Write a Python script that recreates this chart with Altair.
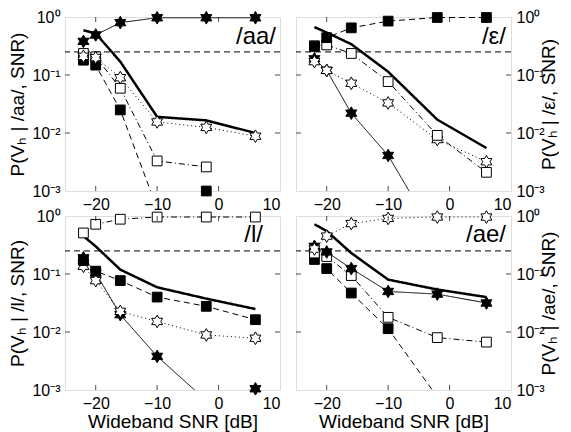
import altair as alt
import pandas as pd

snr = [-22, -20, -16, -10, -2, 6]

# /aa/ panel
aa_fstar = [0.38, 0.49, 0.80, 0.97, 0.97, 0.97]
aa_fsq = [0.18, 0.148, 0.025, 0.0005, 0.001, None]
aa_ostar = [0.21, 0.2, 0.09, 0.0155, 0.0125, 0.0088]
aa_osq = [0.235, 0.206, 0.059, 0.0033, 0.0026, None]
aa_thick = [0.59, 0.52, 0.17, 0.019, 0.0165, 0.01]

# /ε/ panel
eh_fstar = [0.19, 0.12, 0.022, 0.0041, 0.00015, None]
eh_fsq = [0.31, 0.44, 0.65, 0.85, 0.98, 0.98]
eh_ostar = [0.17, 0.12, 0.072, 0.033, 0.0077, 0.0032]
eh_osq = [0.32, 0.33, 0.235, 0.077, 0.0091, 0.0021]
eh_thick = [0.67, 0.54, 0.34, 0.114, 0.017, 0.0055]

# /l/ panel
l_fstar = [0.19, 0.104, 0.0199, 0.0038, 0.00066, 0.00105]
l_fsq = [0.17, 0.112, 0.077, 0.040, 0.0277, 0.0163]
l_ostar = [0.136, 0.077, 0.0227, 0.0152, 0.0089, 0.0078]
l_osq = [0.51, 0.72, 0.88, 0.96, 0.96, 0.96]
l_thick = [0.45, 0.30, 0.119, 0.059, 0.0376, 0.0249]

# /ae/ panel
ae_fstar = [0.30, 0.24, 0.124, 0.050, 0.045, 0.0316]
ae_fsq = [0.178, 0.124, 0.047, 0.0114, 0.00076, None]
ae_ostar = [0.27, 0.45, 0.74, 0.91, 0.96, 0.96]
ae_osq = [0.23, 0.20, 0.094, 0.0179, 0.008, 0.0067]
ae_thick = [0.72, 0.55, 0.23, 0.080, 0.054, 0.040]

threshold = [0.25]
x_ticks = [-20, -10, 0]
y_ticks = [0.01, 0.1]

W, H = 215, 174
FONT = "Liberation Sans"
HEX = ("M0,-1L0.2887,-0.5L0.866,-0.5L0.577,0L0.866,0.5L0.2887,0.5L0,1"
       "L-0.2887,0.5L-0.866,0.5L-0.577,0L-0.866,-0.5L-0.2887,-0.5Z")

STYLES = {
    "fstar": dict(dash=[1, 0], width=1, shape=HEX, fill="black", size=160),
    "fsq": dict(dash=[6, 4], width=1, shape="square", fill="black", size=95),
    "ostar": dict(dash=[1, 3], width=1, shape=HEX, fill="white", size=160),
    "osq": dict(dash=[6, 3, 1, 3], width=1, shape="square", fill="white", size=95),
    "thick": dict(dash=[1, 0], width=2.5, shape=None, fill=None, size=0),
}

ylabel_expr = ("datum.value >= 0.5 ? '10⁰' : datum.value >= 0.05 ? '10⁻¹' : "
               "datum.value >= 0.005 ? '10⁻²' : '10⁻³'")


def panel(series, label, label_x, label_y, left, bottom, ytitle):
    xs = alt.Scale(domain=[-25, 10], nice=False)
    ys = alt.Scale(type="log", domain=[0.001, 1], nice=False)
    xaxis = alt.Axis(values=[-20, -10, 0, 10], ticks=False, domain=False, grid=False,
                     labelPadding=5, labelFontSize=16, titleFontSize=19,
                     titleFontWeight="normal", titlePadding=1)
    yaxis = alt.Axis(values=[0.001, 0.01, 0.1, 1], labelExpr=ylabel_expr,
                     orient="left" if left else "right", ticks=False, domain=False,
                     grid=False, labelPadding=5, labelFontSize=16, titleFontSize=19,
                     titleFontWeight="normal", titlePadding=4 if left else 14,
                     titleAngle=270)
    layers = []
    # threshold line
    layers.append(alt.Chart(pd.DataFrame({"p": threshold})).mark_rule(
        color="black", strokeDash=[6, 4], strokeWidth=1).encode(
        y=alt.Y("p:Q", scale=ys, axis=yaxis, title=ytitle)))
    for key, vals in series.items():
        st = STYLES[key]
        df = pd.DataFrame({"snr": snr, "p": vals}).dropna()
        base = alt.Chart(df)
        layers.append(base.mark_line(color="black", strokeWidth=st["width"],
                                     strokeDash=st["dash"], clip=True).encode(
            x=alt.X("snr:Q", scale=xs, axis=xaxis,
                    title="Wideband SNR [dB]" if bottom else None),
            y=alt.Y("p:Q", scale=ys)))
    for key, vals in series.items():
        st = STYLES[key]
        if st["shape"] is None:
            continue
        df = pd.DataFrame({"snr": snr, "p": vals}).dropna()
        layers.append(alt.Chart(df).transform_filter(alt.datum.p >= 0.00099).mark_point(
            shape=st["shape"], filled=True, fill=st["fill"], stroke="black",
            strokeWidth=1, size=st["size"], opacity=1).encode(
            x=alt.X("snr:Q", scale=xs), y=alt.Y("p:Q", scale=ys)))
    # inside ticks
    xt = pd.DataFrame({"snr": x_ticks})
    layers.append(alt.Chart(xt).mark_tick(orient="vertical", size=5, thickness=1,
                                          color="black").encode(
        x=alt.X("snr:Q", scale=xs), y=alt.value(H - 2.5)))
    layers.append(alt.Chart(xt).mark_tick(orient="vertical", size=5, thickness=1,
                                          color="black").encode(
        x=alt.X("snr:Q", scale=xs), y=alt.value(2.5)))
    yt = pd.DataFrame({"p": y_ticks})
    for xv in (2.5, W - 2.5):
        layers.append(alt.Chart(yt).mark_tick(orient="horizontal", size=5, thickness=1,
                                              color="black").encode(
            y=alt.Y("p:Q", scale=ys), x=alt.value(xv)))
    layers.append(alt.Chart(pd.DataFrame({"t": [label]})).mark_text(
        align="right", baseline="alphabetic", fontSize=24, font=FONT,
        color="black").encode(text="t:N", x=alt.value(label_x), y=alt.value(label_y)))
    return alt.layer(*layers).properties(width=W, height=H)


tl = panel({"thick": aa_thick, "fsq": aa_fsq, "osq": aa_osq, "ostar": aa_ostar,
            "fstar": aa_fstar}, "/aa/", W - 4, 27, True, False, "P(Vₕ | /aa/, SNR)")
tr = panel({"thick": eh_thick, "fstar": eh_fstar, "ostar": eh_ostar, "osq": eh_osq,
            "fsq": eh_fsq}, "/ε/", W - 5, 27, False, False, "P(Vₕ | /ε/, SNR)")
bl = panel({"thick": l_thick, "fstar": l_fstar, "ostar": l_ostar, "fsq": l_fsq,
            "osq": l_osq}, "/l/", W - 17, 26, True, True, "P(Vₕ | /l/, SNR)")
br = panel({"thick": ae_thick, "fsq": ae_fsq, "osq": ae_osq, "fstar": ae_fstar,
            "ostar": ae_ostar}, "/ae/", W - 5, 26, False, True, "P(Vₕ | /ae/, SNR)")

chart = alt.concat(tl, tr, bl, br, columns=2, spacing={"row": 25, "column": 16},
                   bounds="flush").properties(
    padding={"left": 0, "top": 0, "right": 0, "bottom": 0}
).configure_view(stroke="black", strokeWidth=1.2).configure_axis(
    labelFont=FONT, titleFont=FONT, labelColor="black", titleColor="black"
).configure(background="white")

chart.save("out.html", embed_options={"renderer": "svg", "actions": False})
